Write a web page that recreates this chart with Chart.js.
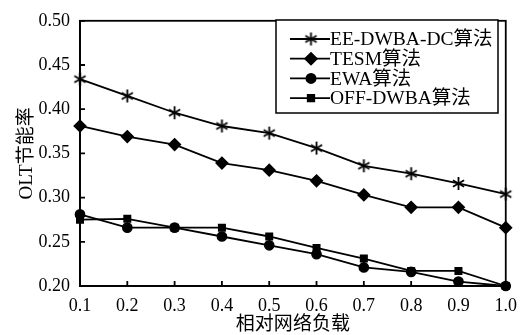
<!DOCTYPE html>
<html>
<head>
<meta charset="utf-8">
<script src="https://cdn.jsdelivr.net/npm/chart.js@4/dist/chart.umd.min.js"></script>
<style>
  html, body { margin: 0; padding: 0; background: #fff; }
  #wrap { width: 526px; height: 335px; }
</style>
</head>
<body>
<div id="wrap"><canvas id="c" width="526" height="335"></canvas></div>
<script>
// Relative network load (x) and OLT energy-saving ratio per algorithm
const loads = ['0.1', '0.2', '0.3', '0.4', '0.5', '0.6', '0.7', '0.8', '0.9', '1.0'];
const eeDwbaDc = [0.434, 0.415, 0.396, 0.381, 0.373, 0.356, 0.336, 0.327, 0.316, 0.304];
const tesm     = [0.381, 0.369, 0.360, 0.339, 0.331, 0.319, 0.303, 0.289, 0.289, 0.266];
const ewa      = [0.281, 0.266, 0.266, 0.256, 0.246, 0.236, 0.221, 0.216, 0.205, 0.200];
const offDwba  = [0.275, 0.276, 0.266, 0.266, 0.256, 0.243, 0.231, 0.217, 0.217, 0.200];
const seriesNames = ['EE-DWBA-DC算法', 'TESM算法', 'EWA算法', 'OFF-DWBA算法'];
const yTicks = [0.20, 0.25, 0.30, 0.35, 0.40, 0.45, 0.50];

const FONT = "'Liberation Serif', 'Noto Sans CJK SC', serif";

// six-armed asterisk marker
function makeAsterisk(r) {
  const size = Math.ceil(r * 2 + 4);
  const cv = document.createElement('canvas');
  cv.width = size; cv.height = size;
  const g = cv.getContext('2d');
  const c = size / 2;
  g.strokeStyle = '#000';
  g.lineWidth = 1.8;
  g.beginPath();
  for (let k = 0; k < 3; k++) {
    const a = Math.PI / 2 + k * Math.PI / 3;
    g.moveTo(c + r * Math.cos(a), c + r * Math.sin(a));
    g.lineTo(c - r * Math.cos(a), c - r * Math.sin(a));
  }
  g.stroke();
  return cv;
}
const asterisk = makeAsterisk(6.5);

function series(label, data, style, radius) {
  return {
    label, data,
    borderColor: '#000', backgroundColor: '#000',
    borderWidth: 1.8,
    pointStyle: style, pointRadius: radius, pointHoverRadius: radius,
    pointBorderColor: '#000', pointBackgroundColor: '#000', pointBorderWidth: 1.5,
    tension: 0, clip: false
  };
}

// Box frame, inward tick marks and the boxed legend inside the plot
const framePlugin = {
  id: 'frame',
  afterDatasetsDraw(chart) {
    const { ctx, chartArea: a, scales } = chart;
    ctx.save();
    ctx.strokeStyle = '#000';
    ctx.lineWidth = 1.8;
    ctx.strokeRect(a.left, a.top, a.right - a.left, a.bottom - a.top);
    ctx.beginPath();
    loads.forEach((_, i) => {
      const x = scales.x.getPixelForValue(i);
      ctx.moveTo(x, a.bottom);
      ctx.lineTo(x, a.bottom - 5);
    });
    yTicks.forEach(v => {
      const y = scales.y.getPixelForValue(v);
      ctx.moveTo(a.left, y);
      ctx.lineTo(a.left + 5, y);
    });
    ctx.stroke();

    // legend
    const lx = 276, ly = 20, lw = 222, lh = 93;
    ctx.fillStyle = '#fff';
    ctx.fillRect(lx, ly, lw, lh);
    ctx.lineWidth = 1.5;
    ctx.strokeRect(lx, ly, lw, lh);
    ctx.font = '19.5px ' + FONT;
    ctx.textBaseline = 'middle';
    ctx.textAlign = 'left';
    chart.data.datasets.forEach((ds, i) => {
      const y = 39 + i * 19.7;
      ctx.beginPath();
      ctx.lineWidth = 1.8;
      ctx.moveTo(290, y);
      ctx.lineTo(330, y);
      ctx.stroke();
      Chart.helpers.drawPoint(ctx, {
        pointStyle: ds.pointStyle, radius: ds.pointRadius, rotation: 0, borderWidth: 1.5
      }, 311, y);
      ctx.fillStyle = '#000';
      ctx.fillText(ds.label, 330, y + 1);
    });
    ctx.restore();
  }
};

new Chart(document.getElementById('c'), {
  type: 'line',
  data: {
    labels: loads,
    datasets: [
      series(seriesNames[0], eeDwbaDc, asterisk, 6),
      series(seriesNames[1], tesm, 'rectRot', 5.8),
      series(seriesNames[2], ewa, 'circle', 4.6),
      series(seriesNames[3], offDwba, 'rect', 4.6)
    ]
  },
  options: {
    responsive: false,
    animation: false,
    events: [],
    layout: { padding: { top: 11, right: 20, left: 0, bottom: 0 } },
    plugins: { legend: { display: false }, tooltip: { enabled: false } },
    scales: {
      x: {
        type: 'category',
        offset: false,
        grid: { display: false, drawTicks: false },
        border: { color: '#000', width: 1.8 },
        ticks: { color: '#000', font: { family: FONT, size: 18 }, padding: 9, maxRotation: 0, autoSkip: false },
        title: { display: true, text: '相对网络负载', color: '#000', font: { family: FONT, size: 19, lineHeight: 1.0 }, padding: { top: 0, bottom: 0 } },
        afterFit(s) { s.height = 49; }
      },
      y: {
        min: 0.2, max: 0.5,
        afterBuildTicks(s) { s.ticks = yTicks.map(v => ({ value: v })); },
        grid: { display: false, drawTicks: false },
        border: { color: '#000', width: 1.8 },
        ticks: { color: '#000', font: { family: FONT, size: 18 }, padding: 10, callback: v => v.toFixed(2) },
        title: { display: true, text: 'OLT节能率', color: '#000', font: { family: FONT, size: 19 }, padding: { top: 16, bottom: 0 } },
        afterFit(s) { s.width = 80; }
      }
    }
  },
  plugins: [framePlugin]
});
</script>
</body>
</html>
